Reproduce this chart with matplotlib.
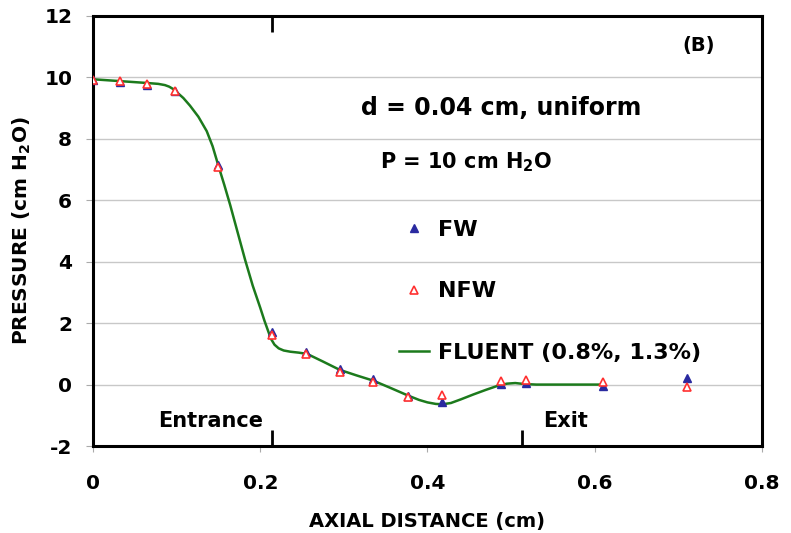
import matplotlib
matplotlib.use("Agg")
import matplotlib.pyplot as plt

plt.rcParams['font.family'] = ['DejaVu Sans']
plt.rcParams['font.weight'] = 'bold'
plt.rcParams['axes.labelweight'] = 'bold'
plt.rcParams['axes.unicode_minus'] = False
plt.rcParams['mathtext.fontset'] = 'dejavusans'

# measured points (x in cm, pressure in cm H2O)
x_pts = [0.0, 0.032, 0.065, 0.098, 0.150, 0.214, 0.255, 0.295,
         0.335, 0.377, 0.417, 0.488, 0.518, 0.610, 0.710]
fw = [9.90, 9.86, 9.76, 9.55, 7.15, 1.72, 1.07, 0.50,
      0.18, -0.38, -0.56, 0.03, 0.04, -0.03, 0.20]
nfw = [9.93, 9.89, 9.80, 9.56, 7.08, 1.60, 1.00, 0.42,
       0.10, -0.41, -0.35, 0.11, 0.14, 0.09, -0.08]

# FLUENT curve
x_fl = [0.0, 0.032, 0.064, 0.078, 0.086, 0.091, 0.096, 0.101, 0.108,
        0.116, 0.126, 0.136, 0.143, 0.150, 0.157, 0.164, 0.173, 0.182,
        0.191, 0.200, 0.205, 0.210, 0.213, 0.217, 0.222, 0.228, 0.236,
        0.246, 0.256, 0.275, 0.295, 0.315, 0.335, 0.355, 0.377, 0.390,
        0.400, 0.410, 0.418, 0.428, 0.440, 0.455, 0.470, 0.485, 0.495,
        0.505, 0.515, 0.530, 0.570, 0.611]
y_fl = [9.94, 9.88, 9.82, 9.79, 9.75, 9.70, 9.62, 9.50, 9.33,
        9.08, 8.72, 8.25, 7.76, 7.12, 6.50, 5.85, 4.95, 4.05,
        3.22, 2.50, 2.08, 1.70, 1.48, 1.30, 1.18, 1.11, 1.07,
        1.04, 1.00, 0.75, 0.48, 0.30, 0.13, -0.10, -0.36, -0.50,
        -0.58, -0.63, -0.64, -0.60, -0.48, -0.32, -0.17, -0.03, 0.03,
        0.05, 0.02, 0.0, 0.0, 0.0]

x_entrance = 0.214
x_exit = 0.513

fig = plt.figure(figsize=(7.91, 5.33), dpi=100)
ax = fig.add_axes([0.1176, 0.1632, 0.8457, 0.8068])

ax.plot(x_fl, y_fl, color='#1c7a1c', lw=1.8, label='FLUENT (0.8%, 1.3%)', zorder=3)
ax.plot(x_pts, fw, ls='none', marker='^', ms=6, color='#2a2aa0',
        label='FW', zorder=4)
ax.plot(x_pts, nfw, ls='none', marker='^', ms=6, mfc='white',
        mec='#ff3030', mew=1.2, label='NFW', zorder=5)

ax.set_xlim(0, 0.8)
ax.set_ylim(-2, 12)
ax.set_xticks([0, 0.2, 0.4, 0.6, 0.8])
ax.set_xticklabels(['0', '0.2', '0.4', '0.6', '0.8'])
ax.set_yticks(range(-2, 13, 2))
ax.yaxis.grid(True, color='#c8c8c8', lw=1)
ax.set_axisbelow(True)
for s in ax.spines.values():
    s.set_linewidth(2.2)
ax.tick_params(axis='both', labelsize=14.5, color='#aaaaaa', width=0.8)
ax.tick_params(axis='y', length=5, pad=10)
ax.tick_params(axis='x', length=4, pad=16)

# entrance / exit markers
ax.vlines([x_entrance, x_exit], 0, 0.037, transform=ax.get_xaxis_transform(),
          color='black', lw=2)
ax.vlines([x_entrance], 0.963, 1, transform=ax.get_xaxis_transform(),
          color='black', lw=2)
ax.text(0.203, 0.036, 'Entrance', transform=ax.get_xaxis_transform(),
        ha='right', va='bottom', fontsize=15)
ax.text(0.538, 0.036, 'Exit', transform=ax.get_xaxis_transform(),
        ha='left', va='bottom', fontsize=15)

ax.set_xlabel('AXIAL DISTANCE (cm)', fontsize=14, labelpad=14)
ax.set_ylabel(r'PRESSURE (cm H$_{\mathbf{2}}$O)', fontsize=14.5, labelpad=8)

ax.text(0.905, 0.9305, '(B)', transform=ax.transAxes, ha='center',
        va='center', fontsize=14)
ax.text(0.610, 0.786, 'd = 0.04 cm, uniform', transform=ax.transAxes,
        ha='center', va='center', fontsize=17)
ax.text(0.429, 0.660, r'P = 10 cm H$_{\mathbf{2}}$O', transform=ax.transAxes,
        ha='left', va='center', fontsize=15)

h, l = ax.get_legend_handles_labels()
ax.legend([h[1], h[2], h[0]], [l[1], l[2], l[0]], frameon=False,
          loc='upper left', bbox_to_anchor=(0.444, 0.547), fontsize=16,
          labelspacing=1.88, handlelength=1.35, handletextpad=0.4,
          borderaxespad=0)

fig.savefig('out.png', dpi=100)
